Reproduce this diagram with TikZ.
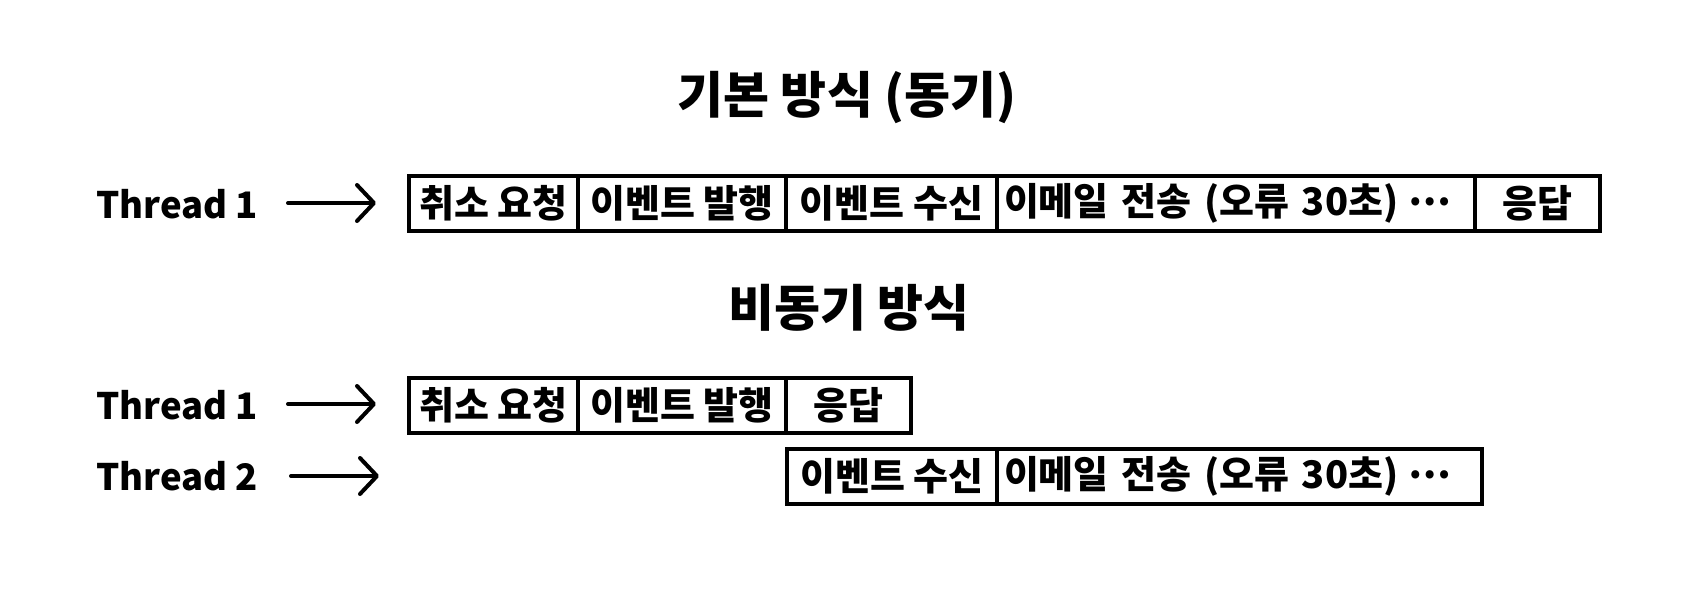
\documentclass[tikz,border=0pt]{standalone}
\usepackage{fontspec}
\setmainfont{Noto Sans CJK KR}
\usetikzlibrary{arrows.meta}
\newcommand{\midots}{\hspace{10pt}\raisebox{10pt}{…}}
\begin{document}
\begin{tikzpicture}[x=1pt,y=-1pt,
  cell/.style={draw, line width=4pt, minimum height=55pt, inner sep=0pt, anchor=center,
    font=\bfseries\fontsize{38}{38}\selectfont},
  longcell/.style={cell, align=left, inner xsep=7pt},
  thread/.style={anchor=west, inner sep=0pt, font=\bfseries\fontsize{36.5}{36.5}\selectfont},
  title/.style={inner sep=0pt, font=\bfseries\fontsize{50}{50}\selectfont},
  flow/.style={line width=4pt, line cap=round, line join=round,
    -{Straight Barb[length=17pt,width=36pt,line cap=round,line join=round]}}]
\useasboundingbox (0,0) rectangle (1706,602);

\node[title] (t1) at (847,98) {기본 방식 (동기)};
\node[title] (t2) at (849,308) {비동기 방식};

% row 1
\node[thread] (th1) at (96,204) {Thread 1};
\coordinate (a1s) at (288,203);
\coordinate (a1e) at (376,203);
\draw[flow] (a1s) -- (a1e);
\node[cell, minimum width=169pt] (r1c1) at (493.5,203) {취소 요청};
\node[cell, minimum width=208pt] (r1c2) at (682,203) {이벤트 발행};
\node[cell, minimum width=211pt] (r1c3) at (891.5,203) {이벤트 수신};
\node[longcell, text width=464pt] (r1c4) at (1236,203) {이메일 전송 (오류 30초)\midots};
\node[cell, minimum width=125pt] (r1c5) at (1537.5,203) {응답};

% row 2
\node[thread] (th2) at (96,405) {Thread 1};
\coordinate (a2s) at (288,404);
\coordinate (a2e) at (376,404);
\draw[flow] (a2s) -- (a2e);
\node[cell, minimum width=169pt] (r2c1) at (493.5,405) {취소 요청};
\node[cell, minimum width=208pt] (r2c2) at (682,405) {이벤트 발행};
\node[cell, minimum width=125pt] (r2c3) at (848.5,405) {응답};

% row 3
\node[thread] (th3) at (96,476) {Thread 2};
\coordinate (a3s) at (291,476);
\coordinate (a3e) at (379,476);
\draw[flow] (a3s) -- (a3e);
\node[cell, minimum width=210pt] (r3c1) at (892,476.5) {이벤트 수신};
\node[longcell, text width=471pt] (r3c2) at (1239.5,476.5) {이메일 전송 (오류 30초)\midots};
\end{tikzpicture}
\end{document}
